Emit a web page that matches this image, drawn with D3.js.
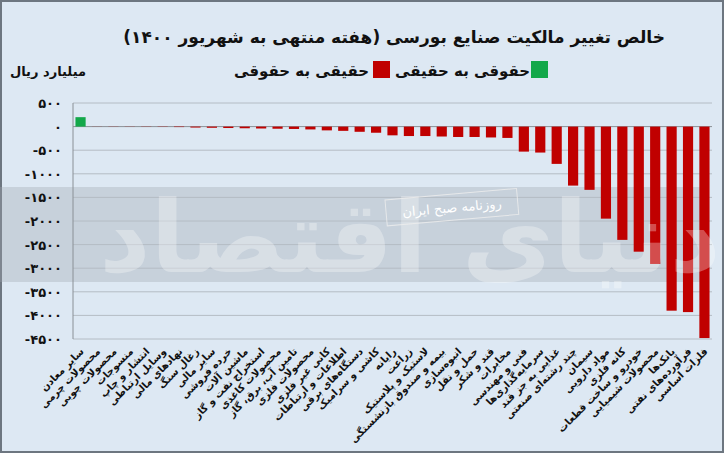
<!DOCTYPE html>
<html><head><meta charset="utf-8">
<script src="https://cdn.jsdelivr.net/npm/d3@7"></script>
<style>body{margin:0;background:#dde8f3}svg{display:block;font-family:"DejaVu Sans",sans-serif}.tk{direction:ltr;unicode-bidi:bidi-override}</style>
</head><body><svg></svg>
<script>
let width = 724, height = 453;

// categories, right to left reading order in the picture is left to right here
const categories = ["سایر معادن","محصولات چرمی","محصولات چوبی","منسوجات","انتشار و چاپ","وسایل ارتباطی","نهادهای مالی","زغال سنگ","سایر مالی","خرده فروشی","ماشین آلات","استخراج نفت و گاز","محصولات کاغذی","تامین آب، برق، گاز","محصولات فلزی","کانی غیر فلزی","اطلاعات و ارتباطات","دستگاه‌های برقی","کاشی و سرامیک","رایانه","زراعت","لاستیک و پلاستیک","بیمه و صندوق بازنشستگی","انبوه‌سازی","حمل و نقل","قند و شکر","مخابرات","فنی و مهندسی","سرمایه‌گذاری‌ها","غذایی به جز قند","چند رشته‌ای صنعتی","سیمان","مواد دارویی","کانه فلزی","خودرو و ساخت قطعات","محصولات شیمیایی","بانک‌ها","فرآورده‌های نفتی","فلزات اساسی"];
const values = [200,-2,-3,-3,-4,-5,-10,-20,-25,-30,-35,-40,-45,-50,-60,-80,-90,-110,-130,-185,-200,-200,-210,-220,-220,-230,-240,-530,-550,-790,-1250,-1340,-1950,-2400,-2650,-2910,-3900,-3930,-4480];
const yTicks = [500,0,-500,-1000,-1500,-2000,-2500,-3000,-3500,-4000,-4500];
const legendLabels = ["حقوقی به حقیقی","حقیقی به حقوقی"];
const colors = {pos:"#13a84a", neg:"#c00000"};

const fa = s => String(s).replace(/\d/g, d => "۰۱۲۳۴۵۶۷۸۹"[d]);

let svg = d3.select("svg").attr("width", width).attr("height", height);
svg.append("rect").attr("x",1).attr("y",1).attr("width",width-2).attr("height",height-2)
  .attr("fill","#dde8f3").attr("stroke","#6d7680").attr("stroke-width",2);

let x = d3.scaleBand().domain(categories).range([73, 712]).paddingInner(0.38).paddingOuter(0.15);
let y = d3.scaleLinear().domain([500, -4500]).range([103, 339]);

// watermark band
svg.append("rect").attr("x",0).attr("y",187).attr("width",700).attr("height",95).attr("fill","#9ea6ae").attr("opacity",0.35);

// grid
svg.append("g").selectAll("line").data(yTicks).enter().append("line")
  .attr("x1",73).attr("x2",712).attr("y1",d=>y(d)).attr("y2",d=>y(d))
  .attr("stroke", d => d===0 ? "#8a9096" : "#b4bcc4").attr("stroke-width",1);
svg.append("line").attr("x1",73).attr("x2",73).attr("y1",103).attr("y2",339).attr("stroke","#8a9096");

svg.append("g").selectAll("text").data(yTicks).enter().append("text")
  .attr("class","tk").attr("x",62).attr("y",d=>y(d)+5).attr("text-anchor","end")
  .attr("font-size",13).attr("font-weight","bold").attr("fill","#111")
  .text(d => d<0 ? "-"+fa(-d) : fa(d));

// bars
svg.append("g").selectAll("rect").data(values).enter().append("rect")
  .attr("x",(d,i)=>x(categories[i])).attr("width",x.bandwidth())
  .attr("y",d=>y(Math.max(d,0))).attr("height",d=>Math.abs(y(d)-y(0)))
  .attr("fill",d=>d>=0?colors.pos:colors.neg);

// watermark text
svg.append("text").attr("x",410).attr("y",272).attr("text-anchor","middle").attr("font-size",100)
  .attr("font-weight","bold").attr("fill","#fff").attr("opacity",0.3).text("دنیای اقتصاد");
let wm = svg.append("g").attr("transform","translate(385,200) rotate(-5)");
wm.append("rect").attr("width",132).attr("height",26).attr("fill","none").attr("stroke","#eee").attr("opacity",0.8);
wm.append("text").attr("x",66).attr("y",18).attr("text-anchor","middle").attr("font-size",13).attr("fill","#fff").text("روزنامه صبح ایران");

// x labels
svg.append("g").selectAll("text").data(categories).enter().append("text")
  .attr("transform",d=>`translate(${x(d)+x.bandwidth()/2+4},352) rotate(-45)`)
  .attr("text-anchor","end").attr("font-size",10).attr("font-weight","bold").attr("fill","#111")
  .text(d=>d);

// title, unit, legend
svg.append("text").attr("x",665).attr("y",43).attr("text-anchor","end").attr("font-size",17)
  .attr("font-weight","bold").attr("fill","#111").text("خالص تغییر مالکیت صنایع بورسی (هفته منتهی به شهریور ۱۴۰۰)");
svg.append("text").attr("x",86).attr("y",76).attr("text-anchor","end").attr("font-size",13)
  .attr("font-weight","bold").attr("fill","#111").text("میلیارد ریال");
svg.append("rect").attr("x",531).attr("y",61).attr("width",17).attr("height",17).attr("fill",colors.pos);
svg.append("text").attr("x",530).attr("y",76).attr("text-anchor","end").attr("font-size",15)
  .attr("font-weight","bold").attr("fill","#111").text(legendLabels[0]);
svg.append("rect").attr("x",373).attr("y",61).attr("width",17).attr("height",17).attr("fill",colors.neg);
svg.append("text").attr("x",369).attr("y",76).attr("text-anchor","end").attr("font-size",15)
  .attr("font-weight","bold").attr("fill","#111").text(legendLabels[1]);
</script></body></html>
